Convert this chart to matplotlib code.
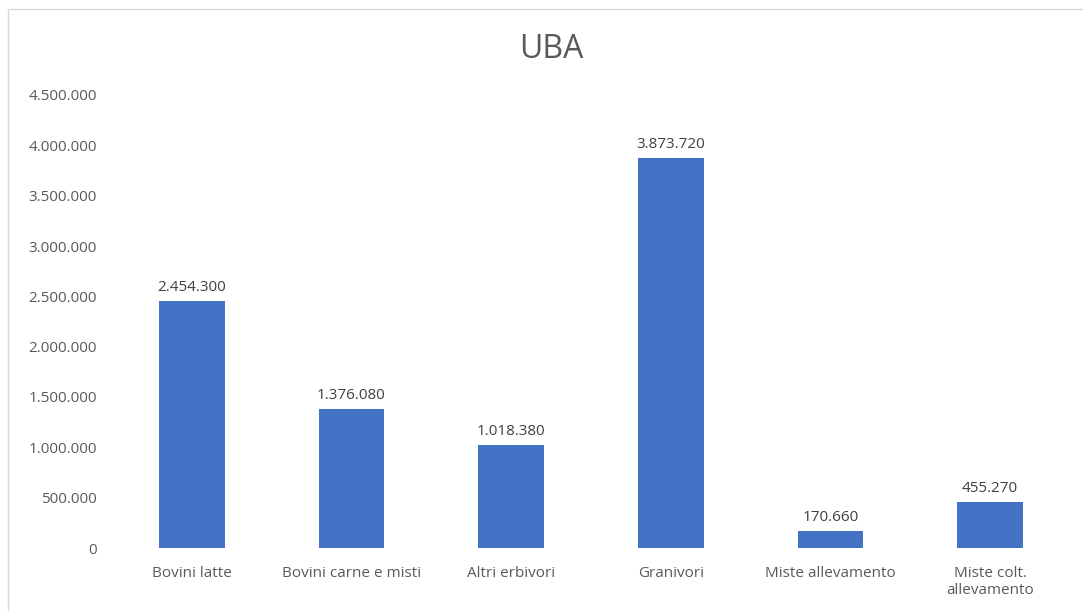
import matplotlib.pyplot as plt
from matplotlib.patches import Rectangle

categories = ["Bovini latte", "Bovini carne e misti", "Altri erbivori",
              "Granivori", "Miste allevamento", "Miste colt.\nallevamento"]
uba = [2454300, 1376080, 1018380, 3873720, 170660, 455270]
yticks = [0, 500000, 1000000, 1500000, 2000000, 2500000, 3000000,
          3500000, 4000000, 4500000]


def fmt_it(v):
    # thousands separator with dots, italian style
    return f"{v:,.0f}".replace(",", ".")


plt.rcParams['font.family'] = ['Open Sans', 'DejaVu Sans']

fig = plt.figure(figsize=(10.83, 6.11), dpi=100)
ax = fig.add_axes([112/1083, 1 - 548/611, (1070 - 112)/1083, (548 - 95)/611])

x = list(range(len(categories)))
bars = ax.bar(x, uba, width=0.41, color="#4472C4")

for b, v in zip(bars, uba):
    ax.text(b.get_x() + b.get_width()/2, v + 60000, fmt_it(v),
            ha="center", va="bottom", fontsize=11, color="#404040")

ax.set_xlim(-0.5, len(categories) - 0.5)
ax.set_ylim(0, 4500000)
ax.set_yticks(yticks)
ax.set_yticklabels([fmt_it(t) for t in yticks])
ax.set_xticks(x)
ax.set_xticklabels(categories, linespacing=1.2)
ax.tick_params(axis="both", length=0, labelsize=11, labelcolor="#595959")
ax.tick_params(axis="y", pad=11)
ax.tick_params(axis="x", pad=13)
for s in ax.spines.values():
    s.set_visible(False)

fig.text(551/1083, 1 - 50/611, "UBA", ha="center", va="center",
         fontsize=23, color="#595959")

# chart border
fig.patches.append(Rectangle((8/1083, -0.1), 1.2, 1.1 - 9/611,
                             transform=fig.transFigure, fill=False,
                             edgecolor="#D9D9D9", linewidth=1))

plt.savefig("out.png", dpi=100)
